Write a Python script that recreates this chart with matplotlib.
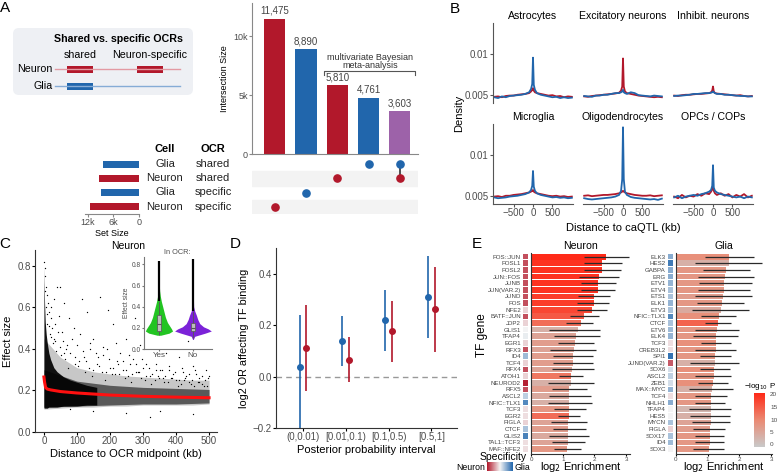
import matplotlib.pyplot as plt
import numpy as np
from matplotlib.colors import LinearSegmentedColormap
from matplotlib.patches import FancyBboxPatch, Rectangle

plt.rcParams['font.family'] = ['Liberation Sans', 'DejaVu Sans']

W, H = 778, 474
RED = '#b2182b'
BLUE = '#2166ac'
PURPLE = '#9d62a9'
TXT = '#4d4d4d'

# ---------------- data ----------------
# A: upset
inter_sizes = [11475, 8890, 5810, 4761, 3603]
inter_labels = ['11,475', '8,890', '5,810', '4,761', '3,603']
inter_colors = [RED, BLUE, RED, BLUE, PURPLE]
inter_members = [[3], [2], [1], [0], [0, 1]]
set_cells = ['Glia', 'Neuron', 'Glia', 'Neuron']
set_ocr = ['shared', 'shared', 'specific', 'specific']
set_sizes = [8364, 9413, 8890, 11475]
set_colors = [BLUE, RED, BLUE, RED]

# B: caQTL density around OCRs (values x 1e-3)
b_titles = ['Astrocytes', 'Excitatory neurons', 'Inhibit. neurons',
            'Microglia', 'Oligodendrocytes', 'OPCs / COPs']
b_x = [-1000, -900, -800, -700, -600, -500, -400, -300, -200, -100, -50, -20, 0,
       20, 50, 100, 200, 300, 400, 500, 600, 700, 800, 900, 1000]
b_red = [
    [4.75, 4.8, 4.7, 4.85, 4.9, 4.9, 5.0, 5.05, 5.1, 5.2, 5.4, 5.6, 5.8, 5.5, 5.3, 5.2, 5.1, 5.0, 4.9, 4.95, 4.8, 4.85, 4.7, 4.8, 4.75],
    [4.8, 4.75, 4.85, 4.9, 4.95, 5.0, 5.05, 5.1, 5.15, 5.25, 5.5, 6.0, 9.4, 6.0, 5.4, 5.2, 5.1, 5.0, 4.9, 4.85, 4.8, 4.75, 4.7, 4.75, 4.7],
    [4.9, 4.85, 4.95, 5.0, 5.0, 5.05, 5.1, 5.1, 5.15, 5.2, 5.3, 5.5, 6.0, 5.4, 5.2, 5.15, 5.1, 5.05, 5.0, 4.95, 4.9, 4.95, 4.85, 4.8, 4.85],
    [4.9, 4.95, 4.85, 5.0, 5.0, 5.1, 5.15, 5.2, 5.3, 5.4, 5.5, 5.6, 5.7, 5.5, 5.4, 5.3, 5.2, 5.1, 5.0, 4.95, 5.0, 4.9, 4.95, 4.85, 4.9],
    [5.0, 5.05, 4.95, 5.0, 5.05, 5.1, 5.1, 5.15, 5.2, 5.3, 5.4, 5.5, 5.6, 5.5, 5.4, 5.3, 5.2, 5.1, 5.05, 5.0, 5.0, 5.05, 4.95, 5.0, 5.05],
    [4.9, 4.7, 5.1, 4.8, 5.0, 4.9, 5.2, 5.0, 5.3, 5.2, 5.5, 5.8, 6.0, 5.6, 5.3, 5.1, 5.3, 5.0, 5.2, 4.8, 5.1, 4.9, 5.2, 4.8, 5.0],
]
b_blue = [
    [4.7, 4.6, 4.8, 4.7, 4.85, 4.9, 4.95, 5.0, 5.1, 5.3, 5.7, 6.3, 9.5, 6.2, 5.6, 5.2, 5.0, 4.9, 4.8, 4.7, 4.75, 4.6, 4.7, 4.6, 4.65],
    [4.85, 4.8, 4.75, 4.9, 4.9, 5.0, 5.0, 5.1, 5.2, 5.2, 5.3, 5.4, 5.6, 5.3, 5.2, 5.1, 5.3, 5.2, 4.95, 4.9, 4.85, 4.8, 4.9, 4.85, 4.8],
    [4.85, 4.9, 4.9, 4.95, 5.0, 5.1, 5.1, 5.15, 5.2, 5.2, 5.25, 5.3, 5.4, 5.3, 5.2, 5.1, 5.1, 5.0, 5.0, 4.95, 4.9, 4.85, 4.85, 4.8, 4.8],
    [4.8, 4.7, 4.75, 4.8, 4.9, 4.95, 5.0, 5.1, 5.2, 5.4, 5.7, 6.2, 8.0, 6.1, 5.6, 5.3, 5.1, 5.0, 4.9, 4.8, 4.85, 4.75, 4.8, 4.7, 4.75],
    [4.7, 4.6, 4.55, 4.6, 4.65, 4.7, 4.75, 4.8, 4.9, 5.1, 5.6, 7.0, 13.3, 7.0, 5.5, 5.1, 4.85, 4.75, 4.7, 4.65, 4.6, 4.55, 4.6, 4.5, 4.65],
    [4.8, 5.0, 4.7, 4.9, 5.0, 5.1, 5.0, 5.2, 5.3, 5.5, 5.7, 6.2, 8.7, 6.0, 5.6, 5.4, 5.2, 5.1, 5.0, 4.9, 4.8, 4.9, 4.7, 4.9, 4.8],
]

# C: effect size vs distance (dense region outlines + sparse points + fit)
core_x = [0, 0.5, 2, 4, 7, 10, 15, 20, 30, 40, 60, 80, 100, 130, 160]
core_hi = [0.80, 0.74, 0.62, 0.53, 0.47, 0.43, 0.38, 0.35, 0.31, 0.29, 0.265, 0.25, 0.24, 0.225, 0.215]
core_lo = [0.12, 0.115, 0.115, 0.115, 0.115, 0.115, 0.12, 0.12, 0.12, 0.12, 0.125, 0.125, 0.125, 0.13, 0.13]
mid_x = [0, 100, 200, 300, 400, 500]
mid_hi = [0.30, 0.245, 0.225, 0.215, 0.21, 0.205]
mid_lo = [0.12, 0.125, 0.13, 0.135, 0.135, 0.14]
fringe_x = [0, 50, 100, 150, 200, 250, 300, 350, 400, 450, 500]
fringe_hi = [0.45, 0.36, 0.31, 0.29, 0.28, 0.27, 0.265, 0.26, 0.255, 0.25, 0.25]
fringe_lo = [0.11, 0.115, 0.12, 0.12, 0.125, 0.125, 0.13, 0.13, 0.13, 0.13, 0.135]
pts_x = [1, 2, 3, 5, 8, 12, 15, 4, 20, 25, 18, 30, 35, 10, 50, 60, 75, 90, 110, 130, 150, 170, 190,
         210, 230, 250, 270, 290, 310, 330, 350, 370, 390, 410, 430, 450, 470, 490, 40, 80, 120, 160,
         200, 240, 280, 320, 360, 400, 440, 480, 55, 100, 140, 180, 220, 260, 300, 340, 380, 420, 460,
         500, 65, 95, 135, 175, 215, 255, 295, 335, 375, 415, 455, 495, 150, 250, 350, 450, 80, 320,
         20, 45, 70, 105, 125, 145, 165, 185, 205, 225, 245, 265, 285, 305, 325, 345, 365, 385, 405,
         425, 445, 465, 485, 115, 195, 275, 355, 435, 60, 30,
         6, 9, 14, 22, 28, 33, 38, 43, 48, 52, 58, 67, 72, 85, 93, 102, 118, 128, 138, 148, 158,
         168, 178, 188, 198, 208, 218, 228, 238, 248, 258, 268, 278, 288, 298, 308, 318, 328, 338,
         348, 358, 368, 378, 388, 398, 408, 418, 428, 438, 448, 458, 468, 478, 488, 498]
pts_y = [0.82, 0.79, 0.75, 0.70, 0.66, 0.62, 0.58, 0.68, 0.55, 0.50, 0.47, 0.45, 0.44, 0.52, 0.70,
         0.62, 0.55, 0.50, 0.47, 0.58, 0.45, 0.65, 0.40, 0.52, 0.38, 0.45, 0.35, 0.42, 0.33, 0.48,
         0.30, 0.38, 0.28, 0.36, 0.27, 0.32, 0.26, 0.30, 0.70, 0.38, 0.36, 0.33, 0.31, 0.30, 0.29,
         0.27, 0.26, 0.25, 0.24, 0.23, 0.48, 0.42, 0.40, 0.37, 0.34, 0.33, 0.31, 0.30, 0.30, 0.29,
         0.28, 0.27, 0.35, 0.33, 0.31, 0.29, 0.28, 0.27, 0.26, 0.25, 0.24, 0.23, 0.22, 0.22, 0.10,
         0.09, 0.10, 0.085, 0.11, 0.07, 0.60, 0.56, 0.42, 0.34, 0.29, 0.27, 0.36, 0.25, 0.28, 0.33,
         0.26, 0.24, 0.29, 0.25, 0.23, 0.27, 0.24, 0.26, 0.22, 0.25, 0.23, 0.24, 0.22, 0.64, 0.59,
         0.55, 0.50, 0.44, 0.38, 0.64,
         0.60, 0.57, 0.51, 0.46, 0.43, 0.52, 0.39, 0.48, 0.41, 0.37, 0.44, 0.40, 0.31, 0.45, 0.36,
         0.32, 0.39, 0.34, 0.43, 0.30, 0.38, 0.32, 0.41, 0.29, 0.35, 0.31, 0.43, 0.28, 0.34, 0.30,
         0.37, 0.28, 0.33, 0.29, 0.35, 0.27, 0.31, 0.28, 0.33, 0.26, 0.30, 0.27, 0.32, 0.26, 0.29,
         0.25, 0.31, 0.26, 0.28, 0.25, 0.30, 0.24, 0.27, 0.25, 0.26]
fit_x = [0, 2, 5, 10, 20, 50, 100, 200, 300, 400, 500]
fit_y = [0.265, 0.24, 0.215, 0.207, 0.203, 0.195, 0.188, 0.178, 0.172, 0.168, 0.165]

# C inset: violins (In OCR: Yes / No)
vio_names = ['Yes', 'No']
vio_colors = ['#22c422', '#7b22d8']
vio_y = [[0.13, 0.15, 0.17, 0.19, 0.22, 0.25, 0.30, 0.35, 0.40, 0.45, 0.50, 0.55, 0.60, 0.70, 0.83],
         [0.09, 0.12, 0.15, 0.17, 0.19, 0.21, 0.24, 0.28, 0.32, 0.36, 0.40, 0.50, 0.60, 0.70, 0.85]]
vio_w = [[0.05, 0.30, 0.40, 0.37, 0.31, 0.25, 0.19, 0.15, 0.11, 0.07, 0.04, 0.02, 0.012, 0.008, 0.005],
         [0.01, 0.05, 0.36, 0.54, 0.45, 0.31, 0.20, 0.14, 0.10, 0.05, 0.02, 0.012, 0.008, 0.006, 0.004]]
box_q1 = [0.17, 0.17]
box_med = [0.235, 0.195]
box_q3 = [0.32, 0.245]
box_lo = [0.13, 0.10]
box_hi = [0.45, 0.36]
out_hi = [0.83, 0.85]

# D: log2 OR by posterior probability interval
d_intervals = ['(0,0.01)', '[0.01,0.1)', '[0.1,0.5)', '[0.5,1]']
d_glia = [0.038, 0.137, 0.220, 0.310]
d_glia_lo = [-0.23, 0.040, 0.100, 0.150]
d_glia_hi = [0.240, 0.235, 0.337, 0.470]
d_neur = [0.113, 0.066, 0.178, 0.262]
d_neur_lo = [-0.055, -0.022, 0.058, 0.096]
d_neur_hi = [0.280, 0.155, 0.295, 0.425]

# E: TF enrichment
e_neur_tf = ['FOS::JUN', 'FOSL1', 'FOSL2', 'JUN::FOS', 'JUNB', 'JUN(VAR.2)', 'JUND', 'FOS', 'NFE2',
             'BATF::JUN', 'JDP2', 'GLIS1', 'TFAP4', 'EGR1', 'RFX3', 'ID4', 'TCF4', 'RFX4', 'ATOH1',
             'NEUROD2', 'RFX5', 'ASCL2', 'NFIC::TLX1', 'TCF3', 'EGR2', 'FIGLA', 'CTCF', 'GLIS2',
             'TAL1::TCF3', 'MAF::NFE2']
e_neur_val = [2.37, 2.24, 2.24, 2.13, 2.11, 2.11, 1.99, 1.97, 1.91, 1.67, 1.57, 1.49, 1.42, 1.40, 1.34,
              1.32, 1.32, 1.30, 1.26, 1.26, 1.21, 1.20, 1.20, 1.19, 1.19, 1.18, 1.17, 1.17, 1.16, 1.15]
e_neur_lo = [1.67, 1.67, 1.67, 1.52, 1.58, 1.58, 1.48, 1.45, 1.45, 1.24, 1.10, 0.56, 0.74, 0.84, 0.61,
             0.70, 0.68, 0.65, 0.89, 0.55, 0.66, 0.58, 0.55, 0.73, 0.85, 0.64, 0.68, 0.57, 0.66, 0.74]
e_neur_hi = [3.09, 2.87, 2.85, 2.76, 2.68, 2.66, 2.49, 2.45, 2.40, 2.13, 1.94, 2.18, 2.16, 1.97, 2.05,
             1.94, 1.95, 1.99, 1.65, 2.00, 1.76, 1.88, 1.91, 1.74, 1.55, 1.76, 1.74, 1.83, 1.71, 1.57]
e_neur_p = [20, 19, 19, 19, 19, 19, 18, 18, 17, 15, 13, 4, 6, 7, 6, 7, 7, 6, 12, 4, 7, 5, 4, 8, 13,
            6, 7, 5, 6, 8]
e_neur_spec = [-0.75, -0.75, -0.75, -0.75, -0.75, -0.75, -0.75, -0.75, -0.15, -0.75, -0.15, 0.0, 0.05,
               -0.15, -0.75, 0.4, -0.15, -0.75, -0.15, -0.95, -0.75, 0.25, 0.75, -0.1, -0.1, -0.15,
               0.35, 0.8, -0.1, -0.1]

e_glia_tf = ['ELK3', 'HES2', 'GABPA', 'ERG', 'ETV1', 'ETV4', 'ETS1', 'ELK1', 'ETV3', 'NFIC::TLX1',
             'CTCF', 'ETV6', 'ELK4', 'TCF3', 'CREB3L2', 'SPI1', 'JUND(VAR.2)', 'SOX6', 'ASCL2', 'ZEB1',
             'MAX::MYC', 'TCF4', 'NHLH1', 'TFAP4', 'HES5', 'MYCN', 'FIGLA', 'SOX17', 'ID4', 'SOX3']
e_glia_val = [1.66, 1.66, 1.58, 1.55, 1.53, 1.50, 1.47, 1.45, 1.43, 1.36, 1.32, 1.30, 1.26, 1.26, 1.26,
              1.23, 1.23, 1.20, 1.19, 1.16, 1.13, 1.11, 1.11, 1.10, 1.10, 1.10, 1.08, 1.08, 1.06, 1.05]
e_glia_lo = [0.90, 0.60, 0.85, 0.70, 0.72, 0.68, 0.60, 0.65, 0.50, 0.80, 0.90, 0.60, 0.55, 0.80, 0.60,
             0.75, 0.45, 0.75, 0.60, 0.70, 0.40, 0.60, 0.60, 0.40, 0.45, 0.50, 0.55, 0.60, 0.60, 0.55]
e_glia_hi = [2.45, 2.70, 2.35, 2.45, 2.40, 2.35, 2.40, 2.15, 2.30, 1.90, 1.75, 2.00, 1.95, 1.75, 1.90,
             1.75, 2.00, 1.70, 1.75, 1.65, 1.80, 1.60, 1.55, 1.75, 1.70, 1.70, 1.55, 1.50, 1.50, 1.50]
e_glia_p = [9, 4, 8, 8, 8, 8, 7, 8, 5, 9, 14, 8, 8, 9, 8, 8, 4, 9, 8, 9, 4, 8, 8, 3, 4, 6, 7, 8, 8, 8]
e_glia_spec = [0.5, 0.85, 0.5, 0.5, 0.45, 0.35, 0.35, 0.45, 0.35, 0.75, 0.35, 0.4, 0.45, -0.1, -0.1,
               0.9, -0.7, 0.15, 0.25, 0.15, 0.45, -0.1, 0.5, 0.0, 0.0, 0.35, -0.15, 0.35, 0.4, 0.0]

p_cmap = LinearSegmentedColormap.from_list('p', ['#c9c9c9', '#eb8a73', '#ff2a18'])
s_cmap = LinearSegmentedColormap.from_list('s', [RED, '#f4f4f4', BLUE])

# ---------------- figure ----------------
fig = plt.figure(figsize=(W / 100, H / 100), dpi=100)


def px_ax(x0, y0, x1, y1):
    return fig.add_axes([x0 / W, 1 - y1 / H, (x1 - x0) / W, (y1 - y0) / H])


def clean(ax, keep=('left', 'bottom'), col='#333333'):
    for s in ['left', 'right', 'top', 'bottom']:
        ax.spines[s].set_visible(s in keep)
        ax.spines[s].set_color(col)


ov = px_ax(0, 0, W, H)
ov.set_xlim(0, W)
ov.set_ylim(H, 0)
ov.axis('off')
ov.set_zorder(10)

# panel letters
for lab, x, y in [('A', 5, 8), ('B', 455, 9), ('C', 5, 244), ('D', 235, 244), ('E', 477, 244)]:
    ov.text(x, y, lab, fontsize=11, ha='center', va='center')

# ---- A schematic ----
ov.add_patch(FancyBboxPatch((13, 28), 180, 67, boxstyle='round,pad=0,rounding_size=6',
                            fc='#eef0f4', ec='none', zorder=0))
ov.text(118, 39, 'Shared vs. specific OCRs', fontsize=7.7, fontweight='bold', ha='center', va='center')
ov.text(80, 55, 'shared', fontsize=7.7, ha='center', va='center')
ov.text(150, 55, 'Neuron-specific', fontsize=7.7, ha='center', va='center')
ov.text(53, 69, 'Neuron', fontsize=7.7, ha='right', va='center')
ov.text(53, 86, 'Glia', fontsize=7.7, ha='right', va='center')
ov.plot([55, 180], [69, 69], color='#e39aa3', lw=1)
ov.plot([55, 180], [86, 86], color='#86acd6', lw=1)
for xs, c, yy in [(67, RED, 69), (137, RED, 69), (67, BLUE, 86)]:
    ov.add_patch(Rectangle((xs, yy - 3.5), 26, 7, fc=c, ec='none'))

# ---- A upset bars ----
ax = px_ax(252, 3, 418, 154)
xpos = np.arange(len(inter_sizes))
ax.bar(xpos, inter_sizes, width=0.68, color=inter_colors)
for x, v, lab in zip(xpos, inter_sizes, inter_labels):
    ax.text(x, v + 250, lab, ha='center', va='bottom', fontsize=7, color='#444444')
ax.set_xlim(-0.72, 4.58)
ax.set_ylim(0, 12800)
ax.set_yticks([0, 5000, 10000])
ax.set_yticklabels(['0', '5k', '10k'])
ax.set_xticks([])
clean(ax, col='#888888')
ax.tick_params(axis='y', labelsize=6.5, labelcolor=TXT, color='#888888', length=2, pad=1)
ax.set_ylabel('Intersection Size', fontsize=6.5, labelpad=3)

ov.text(370, 57, 'multivariate Bayesian', fontsize=6.5, ha='center', va='center', color='#333333')
ov.text(370, 65, 'meta-analysis', fontsize=6.5, ha='center', va='center', color='#333333')
ov.plot([324, 324, 415, 415], [75, 71, 71, 75], color='#555555', lw=0.8)

mx = px_ax(252, 157, 418, 214)
mx.set_xlim(-0.72, 4.58)
mx.set_ylim(3.5, -0.5)
mx.axis('off')
for r in [1, 3]:
    mx.axhspan(r - 0.5, r + 0.5, color='#f3f3f3', zorder=0)
for i, members in enumerate(inter_members):
    if len(members) > 1:
        mx.plot([i, i], [min(members), max(members)], color='#333333', lw=1.2, zorder=1)
    for r in members:
        mx.plot(i, r, 'o', ms=5.2, color=set_colors[r], zorder=2)

sx = px_ax(85, 157, 139, 214)
sx.barh(np.arange(4), set_sizes, height=0.5, color=set_colors)
sx.set_xlim(12700, 0)
sx.set_ylim(3.5, -0.5)
sx.set_yticks([])
sx.set_xticks([12000, 6000, 0])
sx.set_xticklabels(['12k', '6k', '0'])
clean(sx, keep=('bottom',), col='#888888')
sx.tick_params(axis='x', labelsize=6.5, labelcolor=TXT, color='#888888', length=2, pad=1)
sx.set_xlabel('Set Size', fontsize=6.5, labelpad=1)

ov.text(165, 149, 'Cell', fontsize=8, fontweight='bold', ha='center', va='center')
ov.text(213, 149, 'OCR', fontsize=8, fontweight='bold', ha='center', va='center')
for i, (c, o) in enumerate(zip(set_cells, set_ocr)):
    yy = 164 + i * 14.2
    ov.text(165, yy, c, fontsize=8, ha='center', va='center', color='#222222')
    ov.text(213, yy, o, fontsize=8, ha='center', va='center', color='#222222')

# ---- B ----
cols = [(493, 573), (583, 663), (673, 753)]
rows = [(23, 103), (124, 204)]
for k in range(6):
    r, c = divmod(k, 3)
    a = px_ax(cols[c][0], rows[r][0], cols[c][1], rows[r][1])
    a.plot(b_x, np.array(b_red[k]) * 1e-3, color=RED, lw=1.3)
    a.plot(b_x, np.array(b_blue[k]) * 1e-3, color=BLUE, lw=1.3)
    a.set_xlim(-1030, 1030)
    a.set_ylim(0.0040, 0.0137)
    a.set_title(b_titles[k], fontsize=7.6, pad=3)
    keep = []
    if c == 0:
        keep.append('left')
    if r == 1:
        keep.append('bottom')
    clean(a, keep=keep, col='#555555')
    a.set_yticks([0.005, 0.01])
    a.set_yticklabels(['0.005', '0.01'] if c == 0 else [])
    a.set_xticks([-500, 0, 500])
    if r == 0:
        a.set_xticklabels([])
    a.tick_params(labelsize=7, labelcolor=TXT, color='#555555', length=2 if c == 0 else 0, pad=1)
    a.tick_params(axis='x', length=2 if r == 1 else 0)
ov.text(459, 113, 'Density', rotation=90, fontsize=8, ha='center', va='center')
ov.text(623, 228, 'Distance to caQTL (kb)', fontsize=8, ha='center', va='center')

# ---- C ----
ca = px_ax(35, 250, 217, 432)
ca.fill_between(fringe_x, fringe_lo, fringe_hi, color='k', alpha=0.22, lw=0)
ca.fill_between(mid_x, mid_lo, mid_hi, color='k', alpha=0.55, lw=0)
ca.fill_between(core_x, core_lo, core_hi, color='k', alpha=0.92, lw=0)
ca.scatter(pts_x, pts_y, s=0.9, color='k', lw=0)
ca.plot(fit_x, fit_y, color='#ff1010', lw=2.2)
ca.set_xlim(-27, 524)
ca.set_ylim(0, 0.877)
ca.set_xticks([0, 100, 200, 300, 400, 500])
ca.set_yticks([0, 0.2, 0.4, 0.6, 0.8])
ca.set_yticklabels(['0.0', '0.2', '0.4', '0.6', '0.8'])
clean(ca)
ca.tick_params(labelsize=7, labelcolor=TXT, length=2, pad=1)
ca.set_ylabel('Effect size', fontsize=8, labelpad=3)
ca.set_xlabel('Distance to OCR midpoint (kb)', fontsize=8, labelpad=2)
ov.text(128, 246, 'Neuron', fontsize=7.5, ha='center', va='center')

ins = px_ax(144, 257, 212, 349)
for i in range(2):
    cx = i + 1
    vw = np.array(vio_w[i])
    ins.fill_betweenx(vio_y[i], cx - vw, cx + vw, color=vio_colors[i], lw=0, zorder=1)
    ins.vlines(cx, box_hi[i], out_hi[i], color='k', lw=1.6, zorder=2)
    ins.vlines(cx, box_lo[i], box_hi[i], color='#555555', lw=0.6, zorder=2)
    ins.add_patch(Rectangle((cx - 0.07, box_q1[i]), 0.14, box_q3[i] - box_q1[i],
                            fc='#bdbdbd', ec='#555555', lw=0.5, zorder=3))
    ins.hlines(box_med[i], cx - 0.07, cx + 0.07, color='#555555', lw=0.8, zorder=4)
ins.set_xlim(0.56, 2.56)
ins.set_ylim(0, 0.87)
ins.set_xticks([1, 2])
ins.set_xticklabels(vio_names)
ins.set_yticks([0, 0.2, 0.4, 0.6, 0.8])
ins.set_yticklabels(['0.0', '0.2', '0.4', '0.6', '0.8'])
clean(ins, col='#777777')
ins.tick_params(axis='y', labelsize=4.8, labelcolor=TXT, color='#777777', length=1.5, pad=1)
ins.tick_params(axis='x', labelsize=5.8, labelcolor=TXT, color='#777777', length=1.5, pad=1)
ins.set_ylabel('Effect size', fontsize=4.8, labelpad=1, color=TXT)
ins.patch.set_alpha(0)
ov.text(177, 252, 'In OCR:', fontsize=5.3, ha='center', va='center', color=TXT)

# ---- D ----
da = px_ax(276, 248, 457, 428)
dx = np.arange(len(d_intervals))
da.axhline(0, color='#999999', ls='--', lw=1, dashes=(4, 3))
da.vlines(dx - 0.08, d_glia_lo, d_glia_hi, color=BLUE, lw=1.2)
da.plot(dx - 0.08, d_glia, 'o', color=BLUE, ms=4)
da.vlines(dx + 0.08, d_neur_lo, d_neur_hi, color=RED, lw=1.2)
da.plot(dx + 0.08, d_neur, 'o', color=RED, ms=4)
da.set_xlim(-0.63, 3.6)
da.set_ylim(-0.2, 0.5)
da.set_xticks(dx)
da.set_xticklabels(d_intervals)
da.set_yticks([-0.2, 0.0, 0.2, 0.4])
da.set_yticklabels(['\u22120.2', '0.0', '0.2', '0.4'])
clean(da)
da.tick_params(labelsize=7, labelcolor=TXT, length=2, pad=1)
da.set_ylabel('log2 OR affecting TF binding', fontsize=7.8, labelpad=3)
da.set_xlabel('Posterior probability interval', fontsize=8, labelpad=2)


# ---- E ----
def enrich_panel(sq_x, bar_x, names, vals, lo, hi, pv, spec, title, xmax):
    n = len(names)
    yy = np.arange(n)
    sq = px_ax(sq_x[0], 253, sq_x[1], 454)
    sq.barh(yy, [1] * n, height=0.85, color=s_cmap((np.array(spec) + 1) / 2), lw=0)
    sq.set_xlim(0, 1)
    sq.set_ylim(n - 0.25, -0.55)
    sq.set_xticks([])
    sq.set_yticks(yy)
    sq.set_yticklabels(names)
    sq.tick_params(axis='y', labelsize=4.4, labelcolor='#444444', length=0, pad=1.5)
    clean(sq, keep=())
    ba = px_ax(bar_x[0], 253, bar_x[1], 454)
    ba.barh(yy, vals, height=0.86, color=p_cmap(np.array(pv) / 20), lw=0)
    ba.hlines(yy, lo, hi, color='#2a2a2a', lw=0.9)
    ba.set_xlim(0, xmax)
    ba.set_ylim(n - 0.25, -0.55)
    ba.set_yticks([])
    ba.set_xticks([0, 1, 2, 3])
    clean(ba)
    ba.tick_params(axis='x', labelsize=4.5, labelcolor=TXT, length=1.5, pad=0.5)
    ba.set_title(title, fontsize=7.6, pad=3)
    ov.text((bar_x[0] + bar_x[1]) / 2, 470.5, 'log$_2$ Enrichment', fontsize=8,
            ha='center', va='baseline')


enrich_panel((523, 528), (531, 630), e_neur_tf, e_neur_val, e_neur_lo, e_neur_hi,
             e_neur_p, e_neur_spec, 'Neuron', 3.12)
enrich_panel((668, 673), (676, 772), e_glia_tf, e_glia_val, e_glia_lo, e_glia_hi,
             e_glia_p, e_glia_spec, 'Glia', 3.03)
ov.text(482, 335, 'TF gene', rotation=90, fontsize=8.5, ha='center', va='center')

# -log10 P colour bar
pc = px_ax(754, 393, 765, 447)
pc.imshow(np.linspace(20, 0, 100).reshape(-1, 1), cmap=p_cmap, vmin=0, vmax=20,
          aspect='auto', extent=(0, 1, -0.8, 20.8))
pc.set_ylim(-0.8, 20.8)
pc.axis('off')
for v in [0, 5, 10, 15, 20]:
    ov.text(770, 447 - (v + 0.8) / 21.6 * 54, str(v), fontsize=4.6, ha='left', va='center', color=TXT)
ov.text(760, 386, '\u2212log$_{10}$ P', fontsize=5.8, ha='center', va='center')

# specificity legend
sc = px_ax(487, 462, 513, 471)
sc.imshow(np.linspace(-1, 1, 100).reshape(1, -1), cmap=s_cmap, vmin=-1, vmax=1, aspect='auto')
sc.axis('off')
ov.text(480, 457, 'Specificity', fontsize=7.5, ha='left', va='center')
ov.text(485, 467, 'Neuron', fontsize=6.3, ha='right', va='center')
ov.text(515, 467, 'Glia', fontsize=6.3, ha='left', va='center')

fig.savefig('out.png', dpi=100)
